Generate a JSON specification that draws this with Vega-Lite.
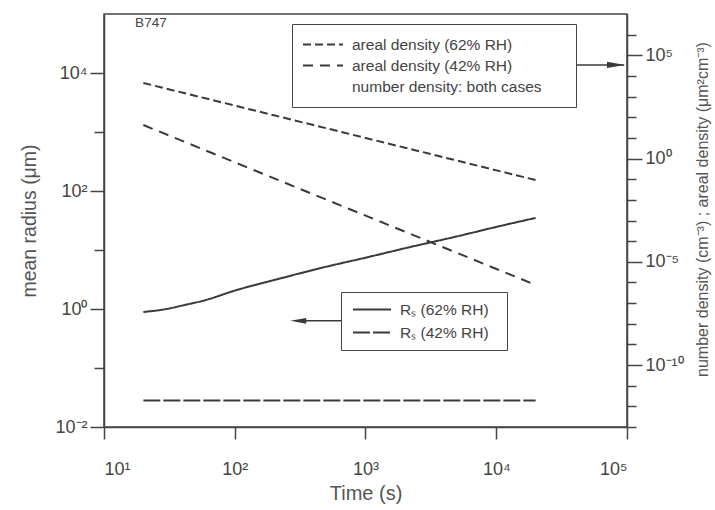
{
  "$schema": "https://vega.github.io/schema/vega-lite/v6.json",
  "width": 523,
  "height": 413,
  "autosize": {"type": "none"},
  "padding": {"left": 104, "top": 14, "right": 88, "bottom": 83},
  "config": {
    "font": "Liberation Sans",
    "view": {"stroke": "#444", "strokeWidth": 1.5},
    "axis": {
      "grid": false,
      "domainColor": "#444",
      "domainWidth": 1.5,
      "tickColor": "#444",
      "tickWidth": 1.5,
      "labelColor": "#444",
      "labelFont": "Liberation Sans",
      "labelFontSize": 18,
      "titleColor": "#555",
      "titleFont": "Liberation Sans",
      "titleFontSize": 19.5,
      "titleFontWeight": "normal"
    }
  },
  "datasets": {
    "radius": [
      {"t": 20, "v": 0.89, "series": "Rₛ (62% RH)"},
      {"t": 30, "v": 1.0, "series": "Rₛ (62% RH)"},
      {"t": 40, "v": 1.15, "series": "Rₛ (62% RH)"},
      {"t": 60, "v": 1.42, "series": "Rₛ (62% RH)"},
      {"t": 100, "v": 2.05, "series": "Rₛ (62% RH)"},
      {"t": 200, "v": 3.1, "series": "Rₛ (62% RH)"},
      {"t": 500, "v": 5.2, "series": "Rₛ (62% RH)"},
      {"t": 1000, "v": 7.4, "series": "Rₛ (62% RH)"},
      {"t": 2000, "v": 10.7, "series": "Rₛ (62% RH)"},
      {"t": 5000, "v": 17, "series": "Rₛ (62% RH)"},
      {"t": 10000, "v": 24.6, "series": "Rₛ (62% RH)"},
      {"t": 20000, "v": 35, "series": "Rₛ (62% RH)"},
      {"t": 20, "v": 0.028, "series": "Rₛ (42% RH)"},
      {"t": 200, "v": 0.028, "series": "Rₛ (42% RH)"},
      {"t": 2000, "v": 0.028, "series": "Rₛ (42% RH)"},
      {"t": 20000, "v": 0.028, "series": "Rₛ (42% RH)"}
    ],
    "density": [
      {"t": 20, "v": 4570, "series": "areal density (62% RH)"},
      {"t": 200, "v": 124, "series": "areal density (62% RH)"},
      {"t": 2000, "v": 3.36, "series": "areal density (62% RH)"},
      {"t": 20000, "v": 0.091, "series": "areal density (62% RH)"},
      {"t": 20, "v": 42, "series": "areal density (42% RH)"},
      {"t": 200, "v": 0.11, "series": "areal density (42% RH)"},
      {"t": 2000, "v": 0.000289, "series": "areal density (42% RH)"},
      {"t": 20000, "v": 7.6e-7, "series": "areal density (42% RH)"}
    ],
    "leftArrow": [{"t": 650, "t2": 299, "v": 0.63}],
    "leftHead": [{"t": 306, "v": 0.63}],
    "rightArrow": [{"t": 39300, "t2": 95000, "v": 34000}],
    "rightHead": [{"t": 82400, "v": 34000}],
    "note": [{"t": 17.3, "v": 70000, "label": "B747"}]
  },
  "encoding": {
    "x": {
      "field": "t",
      "type": "quantitative",
      "scale": {"type": "log", "domain": [10, 100000]},
      "axis": {
        "title": "Time (s)",
        "titleFontSize": 20,
        "values": [10, 100, 1000, 10000, 100000],
        "labelExpr": "datum.value==10?'10¹':datum.value==100?'10²':datum.value==1000?'10³':datum.value==10000?'10⁴':'10⁵'",
        "tickSize": 12,
        "labelPadding": 21,
        "titlePadding": 5
      }
    }
  },
  "layer": [
    {
      "encoding": {
        "y": {
          "field": "v",
          "type": "quantitative",
          "scale": {"type": "log", "domain": [0.01, 100000]},
          "axis": {
            "orient": "left",
            "title": "mean radius (μm)",
            "values": [0.01, 0.1, 1, 10, 100, 1000, 10000],
            "labelExpr": "datum.value==10000?'10⁴':datum.value==100?'10²':datum.value==1?'10⁰':datum.value==0.01?'10⁻²':''",
            "tickSize": {"condition": {"test": "datum.value==10000||datum.value==100||datum.value==1||datum.value==0.01", "value": 14}, "value": 10},
            "labelPadding": 3,
            "titlePadding": 15
          }
        }
      },
      "layer": [
        {
          "data": {"name": "radius"},
          "mark": {"type": "line", "color": "#3a3a3a", "strokeWidth": 2, "interpolate": "monotone"},
          "encoding": {
            "detail": {"field": "series"},
            "strokeDash": {
              "field": "series",
              "type": "nominal",
              "scale": {"domain": ["Rₛ (62% RH)", "Rₛ (42% RH)"], "range": [[1, 0], [17, 3]]},
              "legend": {
                "orient": "none",
                "legendX": 237,
                "legendY": 278,
                "title": null,
                "padding": 6,
                "symbolOffset": 5,
                "strokeColor": "#444",
                "fillColor": "white",
                "symbolType": "stroke",
                "symbolSize": 1444,
                "symbolStrokeWidth": 2,
                "symbolStrokeColor": "#3a3a3a",
                "labelFontSize": 15.5,
                "labelColor": "#444",
                "labelOffset": 8,
                "clipHeight": 23,
                "rowPadding": 0,
                "labelLimit": 400,
                "labelExpr": "datum.label + '\u2800'"
              }
            }
          }
        },
        {
          "data": {"name": "leftArrow"},
          "mark": {"type": "rule", "color": "#3a3a3a", "strokeWidth": 1.5},
          "encoding": {"x2": {"field": "t2"}}
        },
        {
          "data": {"name": "leftHead"},
          "mark": {"type": "point", "shape": "M1,-0.35L-1,0L1,0.35Z", "size": 256, "filled": true, "color": "#3a3a3a", "opacity": 1}
        },
        {
          "data": {"name": "note"},
          "mark": {"type": "text", "align": "left", "baseline": "middle", "fontSize": 13.5, "color": "#444"},
          "encoding": {"text": {"field": "label"}}
        }
      ]
    },
    {
      "encoding": {
        "y": {
          "field": "v",
          "type": "quantitative",
          "scale": {"type": "log", "domain": [1e-13, 1e7]},
          "axis": {
            "orient": "right",
            "title": "number density (cm⁻³) ; areal density (μm²cm⁻³)",
            "titleFontSize": 16,
            "titleAngle": 270,
            "titleY": 195,
            "values": [1e-13, 1e-12, 1e-11, 1e-10, 1e-9, 1e-8, 1e-7, 1e-6, 1e-5, 1e-4, 1e-3, 1e-2, 1e-1, 1, 10, 100, 1000, 10000, 100000, 1000000],
            "labelExpr": "datum.value==1e5?'10⁵':datum.value==1?'10⁰':datum.value==1e-5?'10⁻⁵':datum.value==1e-10?'10⁻¹⁰':''",
            "tickSize": {"condition": {"test": "datum.value==1e5||datum.value==1||datum.value==1e-5||datum.value==1e-10", "value": 15}, "value": 9},
            "labelPadding": 3,
            "titlePadding": 27
          }
        }
      },
      "layer": [
        {
          "data": {"name": "density"},
          "mark": {"type": "line", "color": "#3a3a3a", "strokeWidth": 2},
          "encoding": {
            "detail": {"field": "series"},
            "strokeDash": {
              "field": "series",
              "type": "nominal",
              "scale": {"domain": ["areal density (62% RH)", "areal density (42% RH)", "number density: both cases"], "range": [[8, 4], [10, 7], [0, 1000]]},
              "legend": {
                "orient": "none",
                "legendX": 188,
                "legendY": 10,
                "title": null,
                "padding": 10,
                "strokeColor": "#444",
                "fillColor": "white",
                "symbolType": "stroke",
                "symbolSize": 1600,
                "symbolStrokeWidth": 2,
                "symbolStrokeColor": "#3a3a3a",
                "labelFontSize": 15.5,
                "labelColor": "#444",
                "labelOffset": 8,
                "clipHeight": 21,
                "rowPadding": 0,
                "labelLimit": 400,
                "labelExpr": "datum.label=='number density: both cases' ? datum.label + '\u2800\u2800' : datum.label"
              }
            }
          }
        },
        {
          "data": {"name": "rightArrow"},
          "mark": {"type": "rule", "color": "#3a3a3a", "strokeWidth": 1.5},
          "encoding": {"x2": {"field": "t2"}}
        },
        {
          "data": {"name": "rightHead"},
          "mark": {"type": "point", "shape": "M-1,-0.35L1,0L-1,0.35Z", "size": 324, "filled": true, "color": "#3a3a3a", "opacity": 1}
        }
      ]
    }
  ],
  "resolve": {
    "scale": {"y": "independent", "strokeDash": "independent"},
    "axis": {"y": "independent"},
    "legend": {"strokeDash": "independent"}
  }
}
